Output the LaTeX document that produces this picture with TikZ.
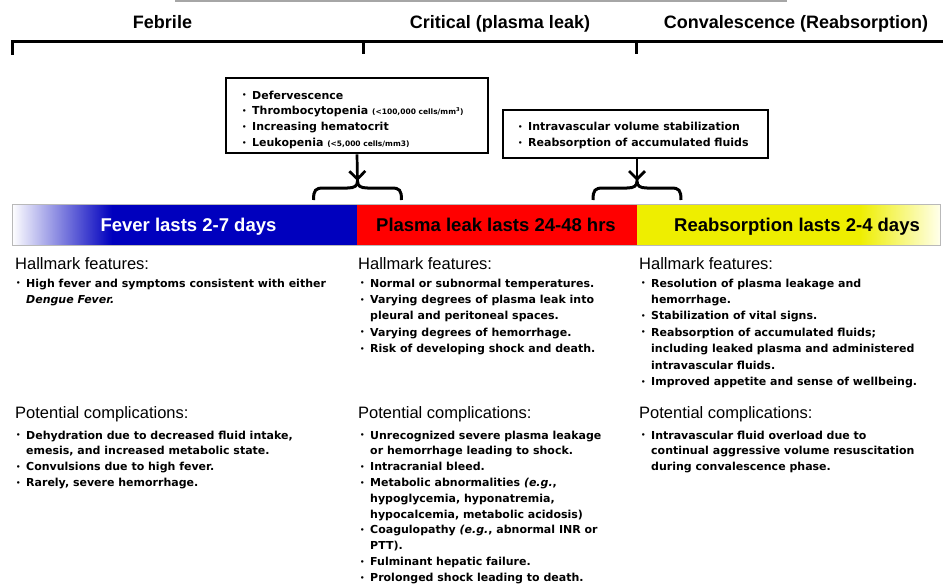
\documentclass[tikz,border=0pt]{standalone}
\usepackage{fontspec}
\setmainfont{Liberation Sans}
\newfontfamily\dvs{DejaVu Sans}
\usetikzlibrary{arrows.meta,calc}
\definecolor{barblue}{RGB}{0,0,190}
\definecolor{barred}{RGB}{255,0,0}
\definecolor{baryel}{RGB}{238,238,0}
\newcommand{\bu}{\makebox[10pt][l]{\raisebox{0.2ex}{\fontsize{7}{7}\selectfont\textbullet}}}
\newcommand{\ind}{\hspace*{10pt}}
\newcommand{\tinytxt}[1]{{\fontsize{7.5}{8}\selectfont #1}}
\begin{document}
\begin{tikzpicture}[x=1pt,y=-1pt,
  hdr/.style={font=\fontsize{18}{20}\selectfont\bfseries, anchor=base, inner sep=0},
  bartxt/.style={font=\fontsize{18.5}{20}\selectfont\bfseries, anchor=base, inner sep=0},
  sect/.style={font=\fontsize{16.5}{18}\selectfont, anchor=base west, inner sep=0},
  lsth/.style={font=\dvs\bfseries\fontsize{11}{16.4}\selectfont, anchor=base west, inner sep=0, align=left},
  lstp/.style={font=\dvs\bfseries\fontsize{11}{15.8}\selectfont, anchor=base west, inner sep=0, align=left},
  boxlst/.style={font=\dvs\bfseries\fontsize{11}{15.8}\selectfont, anchor=base west, inner sep=0, align=left},
  infobox/.style={draw, line width=2.7pt, inner sep=0, fill=white},
  brk/.style={line width=3pt},
  arr/.style={line width=2.7pt, -{Straight Barb[length=8pt,width=16pt,line width=2.7pt]}},
]
\useasboundingbox (0,0) rectangle (943,586);

% cut-off line at top
\draw[gray!70, line width=2pt] (175,1) -- (787,1);

% phase headers
\node[hdr] (hfeb) at (162.5,28.5) {Febrile};
\node[hdr] (hcrit) at (500,28.5) {Critical (plasma leak)};
\node[hdr] (hconv) at (796,28.5) {Convalescence (Reabsorption)};

% bracket line
\draw[brk] (12,55) -- (12,42) -- (943,42);
\draw[brk] (363,42) -- (363,54);
\draw[brk] (636,42) -- (636,54);

% info boxes (text nodes are anchored at the baseline of their last line)
\node[infobox, minimum width=262pt, minimum height=75pt] (b1) at (357,115.5) {};
\node[boxlst] (b1t) at (242,146.4) {\bu Defervescence\\ \bu Thrombocytopenia \tinytxt{(<100,000 cells/mm\textsuperscript{3})}\\ \bu Increasing hematocrit\\ \bu Leukopenia \tinytxt{(<5,000 cells/mm3)}};
\node[infobox, minimum width=265pt, minimum height=48pt] (b2) at (635.5,134) {};
\node[boxlst] (b2t) at (518,146.8) {\bu Intravascular volume stabilization\\ \bu Reabsorption of accumulated fluids};

% arrows and braces
\coordinate (t1) at (357.5,181);
\coordinate (t2) at (637,181);
\draw[arr] (b1.south) -- (t1);
\draw[arr] (b2.south -| t2) -- (t2);
\foreach \t in {t1,t2}{
\draw[brk] ($(\t)+(-44,19)$) .. controls ($(\t)+(-44,9)$) and ($(\t)+(-42,7)$) .. ($(\t)+(-34,7)$) -- ($(\t)+(-10,7)$) .. controls ($(\t)+(-3,7)$) and ($(\t)+(0,5)$) .. (\t) .. controls ($(\t)+(0,5)$) and ($(\t)+(3,7)$) .. ($(\t)+(10,7)$) -- ($(\t)+(34,7)$) .. controls ($(\t)+(42,7)$) and ($(\t)+(44,9)$) .. ($(\t)+(44,19)$);
}

% timeline bar
\shade[left color=white, right color=barblue] (12,204) rectangle (112,245);
\fill[barblue] (111.5,204) rectangle (357,245);
\fill[barred] (357,204) rectangle (637,245);
\fill[baryel] (637,204) rectangle (860,245);
\shade[left color=baryel, right color=yellow!8] (859.5,204) rectangle (940,245);
\draw[gray!55, line width=1pt] (12,204) rectangle (940,245);
\node[bartxt, text=white] (fever) at (188.5,231.6) {Fever lasts 2-7 days};
\node[bartxt] (plasma) at (496,231.6) {Plasma leak lasts 24-48 hrs};
\node[bartxt] (reab) at (797,231.6) {Reabsorption lasts 2-4 days};

% column 1
\node[sect] (h1) at (15,269) {Hallmark features:};
\node[lsth] (l1) at (16,303.4) {\bu High fever and symptoms consistent with either\\ \ind\textit{Dengue Fever.}};
\node[sect] (p1) at (15,418) {Potential complications:};
\node[lstp] (c1) at (16,486.4) {\bu Dehydration due to decreased fluid intake,\\ \ind emesis, and increased metabolic state.\\ \bu Convulsions due to high fever.\\ \bu Rarely, severe hemorrhage.};

% column 2
\node[sect] (h2) at (358,269) {Hallmark features:};
\node[lsth] (l2) at (360,352.6) {\bu Normal or subnormal temperatures.\\ \bu Varying degrees of plasma leak into\\ \ind pleural and peritoneal spaces.\\ \bu Varying degrees of hemorrhage.\\ \bu Risk of developing shock and death.};
\node[sect] (p2) at (358,418) {Potential complications:};
\node[lstp] (c2) at (360,581.2) {\bu Unrecognized severe plasma leakage\\ \ind or hemorrhage leading to shock.\\ \bu Intracranial bleed.\\ \bu Metabolic abnormalities \textit{(e.g.},\\ \ind hypoglycemia, hyponatremia,\\ \ind hypocalcemia, metabolic acidosis)\\ \bu Coagulopathy \textit{(e.g.}, abnormal INR or\\ \ind PTT).\\ \bu Fulminant hepatic failure.\\ \bu Prolonged shock leading to death.};

% column 3
\node[sect] (h3) at (639,269) {Hallmark features:};
\node[lsth] (l3) at (641,385.4) {\bu Resolution of plasma leakage and\\ \ind hemorrhage.\\ \bu Stabilization of vital signs.\\ \bu Reabsorption of accumulated fluids;\\ \ind including leaked plasma and administered\\ \ind intravascular fluids.\\ \bu Improved appetite and sense of wellbeing.};
\node[sect] (p3) at (639,418) {Potential complications:};
\node[lstp] (c3) at (641,470.6) {\bu Intravascular fluid overload due to\\ \ind continual aggressive volume resuscitation\\ \ind during convalescence phase.};
\end{tikzpicture}
\end{document}
